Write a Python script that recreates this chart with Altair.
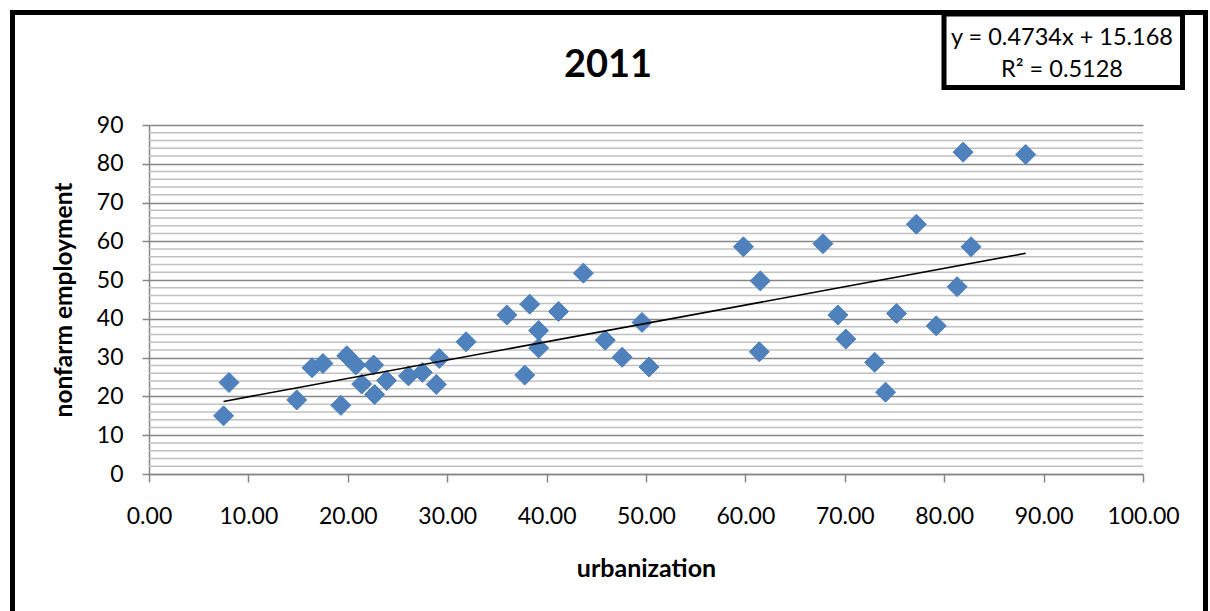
import altair as alt
import pandas as pd

# Urbanization (%) and nonfarm employment (%) by region, 2011
urbanization = [
    7.5, 8.05, 14.86, 16.4, 17.5, 19.3, 19.9, 20.8, 21.4, 22.6, 22.7, 23.9,
    26.1, 27.5, 28.9, 29.2, 31.9, 36.0, 37.8, 38.3, 39.2, 39.2, 41.2, 43.7,
    45.9, 47.6, 49.6, 50.3, 59.8, 61.4, 61.5, 67.8, 69.3, 70.1, 73.0, 74.1,
    75.2, 77.2, 79.2, 81.3, 81.9, 82.7, 88.2,
]
nonfarm_employment = [
    15.0, 23.6, 19.1, 27.4, 28.5, 17.7, 30.5, 28.1, 23.2, 28.1, 20.5, 24.1,
    25.3, 26.2, 23.1, 29.8, 34.1, 41.0, 25.5, 43.8, 37.0, 32.5, 41.9, 51.8,
    34.5, 30.1, 39.1, 27.6, 58.6, 31.5, 49.8, 59.4, 41.0, 34.8, 28.8, 21.1,
    41.4, 64.4, 38.2, 48.3, 83.0, 58.6, 82.4,
]

# Linear trend reported for the series
trend_slope = 0.4734
trend_intercept = 15.168
r_squared = 0.5128

chart_title = "2011"
x_title = "urbanization"
y_title = "nonfarm employment"

x_ticks = list(range(0, 101, 10))
y_ticks = list(range(0, 91, 10))
y_minor = [v for v in range(0, 91, 2) if v % 10]

points = pd.DataFrame({"urbanization": urbanization, "nonfarm": nonfarm_employment})
x_lo, x_hi = min(urbanization), max(urbanization)
trend = pd.DataFrame({
    "urbanization": [x_lo, x_hi],
    "nonfarm": [trend_slope * x_lo + trend_intercept, trend_slope * x_hi + trend_intercept],
})
minor = pd.DataFrame({"v": y_minor})
one = pd.DataFrame({"k": [0]})

FONT = "Lato"
AXIS_GRAY = "#868686"

x_scale = alt.Scale(domain=[0, 100], nice=False, zero=False)
y_scale = alt.Scale(domain=[0, 90], nice=False)

x_axis = alt.Axis(
    values=x_ticks, format=".2f", title=x_title, grid=False,
    tickSize=8, tickColor=AXIS_GRAY, tickWidth=1.5, domainColor=AXIS_GRAY, domainWidth=1.5,
    labelFont=FONT, labelFontSize=23, labelColor="black", labelPadding=23,
    labelFlush=False, labelOverlap=False,
    titleFont=FONT, titleFontSize=25, titleFontWeight="bold", titleColor="black",
    titlePadding=28,
)
y_axis = alt.Axis(
    values=y_ticks, format="d", title=y_title, grid=True,
    gridColor=AXIS_GRAY, gridWidth=1.5,
    tickSize=7, tickColor=AXIS_GRAY, tickWidth=1.5, domainColor=AXIS_GRAY, domainWidth=1.5,
    labelFont=FONT, labelFontSize=23, labelColor="black", labelPadding=19,
    titleFont=FONT, titleFontSize=24.5, titleFontWeight="bold", titleColor="black",
    titlePadding=20,
)

# Light minor gridlines every 2 units
minor_grid = alt.Chart(minor).mark_rule(color="#c0c0c0", strokeWidth=1.5).encode(
    y=alt.Y("v:Q", scale=y_scale, axis=y_axis)
)

scatter = alt.Chart(points).mark_point(
    shape="diamond", size=400, filled=True, fill="#4f81bd", stroke="#4a7ebb",
    strokeWidth=1, opacity=1,
).encode(
    x=alt.X("urbanization:Q", scale=x_scale, axis=x_axis),
    y=alt.Y("nonfarm:Q", scale=y_scale, axis=y_axis),
)

trend_line = alt.Chart(trend).mark_line(color="black", strokeWidth=1.6).encode(
    x=alt.X("urbanization:Q", scale=x_scale, axis=x_axis),
    y=alt.Y("nonfarm:Q", scale=y_scale, axis=y_axis),
)

# Chart frame (pixel offsets relative to the plot area)
frame = alt.Chart(one).mark_rect(fillOpacity=0, stroke="black", strokeWidth=5).encode(
    x=alt.value(-136.5), x2=alt.value(1056.5), y=alt.value(-112.5), y2=alt.value(700)
)

title_text = alt.Chart(one).mark_text(
    text=chart_title, font=FONT, fontSize=38, fontWeight="bold", color="black",
    align="center", baseline="alphabetic",
).encode(x=alt.value(459), y=alt.value(-48.3))

# Trend equation box
eq_box = alt.Chart(one).mark_rect(fill="white", stroke="black", strokeWidth=5).encode(
    x=alt.value(795), x2=alt.value(1033.5), y=alt.value(-111), y2=alt.value(-37.5)
)
eq_line1 = alt.Chart(one).mark_text(
    text=f"y = {trend_slope}x + {trend_intercept}", font=FONT, fontSize=23.5,
    color="black", align="center", baseline="alphabetic",
).encode(x=alt.value(913), y=alt.value(-80))
eq_line2 = alt.Chart(one).mark_text(
    text=f"R\u00b2 = {r_squared}", font=FONT, fontSize=23.5,
    color="black", align="center", baseline="alphabetic",
).encode(x=alt.value(913), y=alt.value(-48))

chart = alt.layer(
    minor_grid, scatter, trend_line, frame, title_text, eq_box, eq_line1, eq_line2
).properties(
    width=994,
    height=349,
    autosize=alt.AutoSizeParams(type="none"),
    padding={"left": 149, "top": 125, "right": 67, "bottom": 137},
    background="white",
).configure_view(stroke=None)

chart.save("out.html", embed_options={"renderer": "svg", "actions": False})
